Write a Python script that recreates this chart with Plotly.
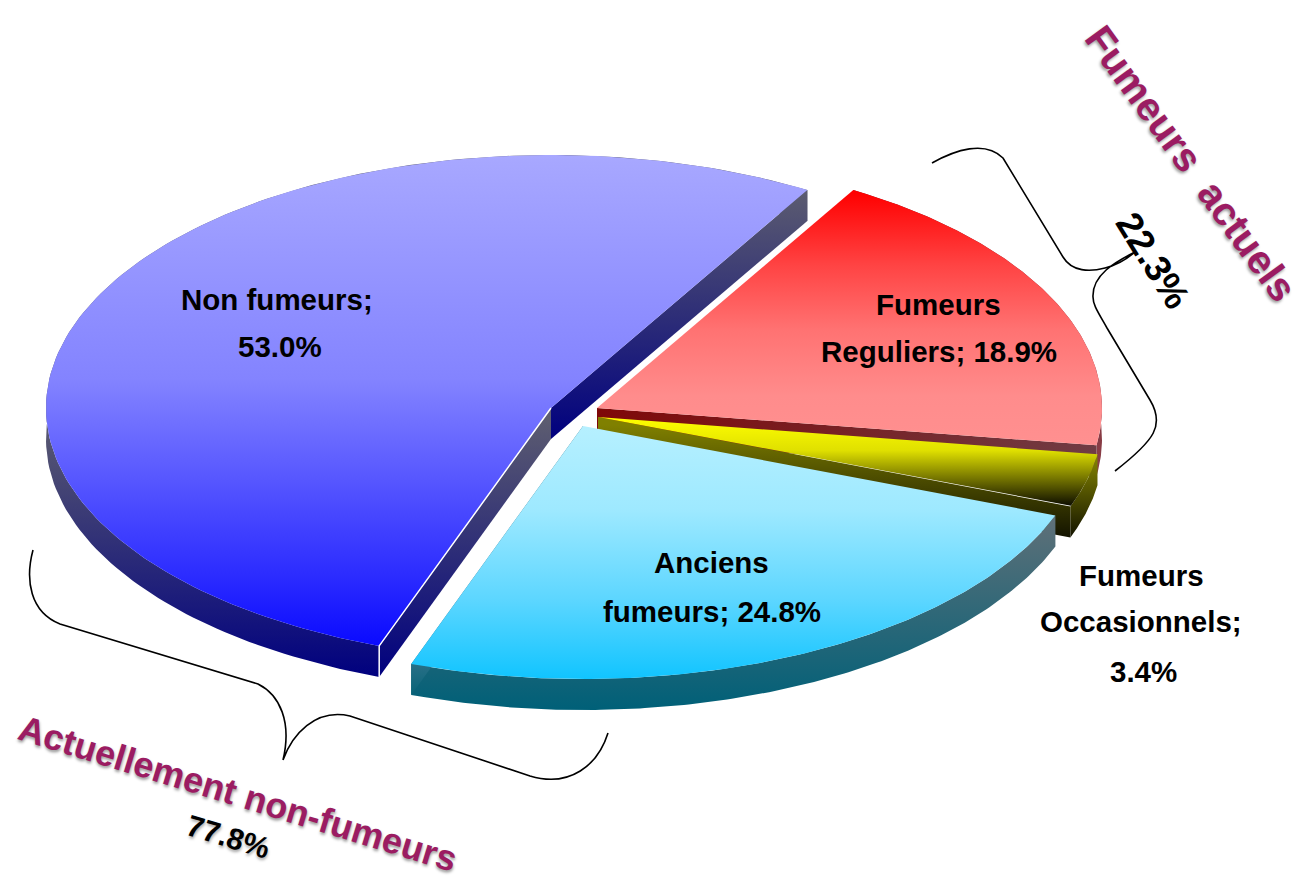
import numpy as np
import plotly.graph_objects as go

# ---- data ----
categories = ["Non fumeurs", "Anciens fumeurs", "Fumeurs Occasionnels", "Fumeurs Reguliers"]
shares = [53.0, 24.8, 3.4, 18.9]
group_labels = ["Actuellement non-fumeurs", "Fumeurs  actuels"]
group_values = [77.8, 22.3]

# ---- geometry of the tilted pie ----
W, H = 1305, 880
A, B = 505.0, 253.0
DEPTH = 31.0
START_DEG = 59.5
APEX = {0: (551, 408), 1: (583, 426), 2: (598, 417), 3: (597, 408)}
total = sum(shares)
edges = START_DEG + np.concatenate([[0], np.cumsum(shares)]) * 360.0 / total


def arc(i, n=160):
    t = np.radians(np.linspace(edges[i], edges[i + 1], n))
    cx, cy = APEX[i]
    return cx + A * np.cos(t), cy - B * np.sin(t)


def poly(x, y, stops, y0, y1, kind="vertical"):
    x = list(x) + [x[0]]
    y = list(y) + [y[0]]
    return go.Scatter(
        x=x, y=y, mode="lines", fill="toself", line=dict(width=0),
        fillgradient=dict(type=kind, start=y0, stop=y1, colorscale=stops),
        hoverinfo="skip", showlegend=False,
    )


def outer_wall(i, stops, y0, y1):
    x, y = arc(i)
    return poly(np.r_[x, x[::-1]], np.r_[y, y[::-1] + DEPTH], stops, y0, y1)


def cut_wall(i, end, stops, y0, y1, kind="vertical"):
    x, y = arc(i)
    cx, cy = APEX[i]
    px, py = (x[0], y[0]) if end == 0 else (x[-1], y[-1])
    return poly([cx, px, px, cx], [cy, py, py + DEPTH, cy + DEPTH], stops, y0, y1, kind)


def face(i, stops, y0, y1):
    x, y = arc(i)
    cx, cy = APEX[i]
    return poly(np.r_[cx, x], np.r_[cy, y], stops, y0, y1)


fig = go.Figure()

# Non fumeurs
grey_navy = [[0, "#5c5c70"], [1, "#00007f"]]
fig.add_trace(outer_wall(0, grey_navy, 420, 677))
fig.add_trace(cut_wall(0, 0, grey_navy, 190, 440))
fig.add_trace(cut_wall(0, 1, grey_navy, 420, 677))
fig.add_trace(face(0, [[0, "#a8a8ff"], [0.459, "#8383ff"], [0.857, "#2c2cff"], [1, "#0a0aff"]], 155, 645))
x0, y0 = arc(0)
fig.add_trace(go.Scatter(
    x=[APEX[0][0], x0[-1], x0[-1]], y=[APEX[0][1], y0[-1], y0[-1] + DEPTH],
    mode="lines", line=dict(color="#ffffff", width=1.5), hoverinfo="skip", showlegend=False))

# Fumeurs reguliers
fig.add_trace(outer_wall(3, [[0, "#7a2030"], [1, "#8a4048"]], 200, 480))
fig.add_trace(cut_wall(3, 0, [[0, "#7f0808"], [1, "#703c44"]], 597, 1098, "horizontal"))
fig.add_trace(face(3, [[0, "#ff0000"], [0.29, "#ff4444"], [0.54, "#ff7272"], [0.8, "#ff8c8c"], [1, "#ff9090"]], 192, 447))

# Fumeurs occasionnels
olive_black = [[0, "#808000"], [1, "#141400"]]
fig.add_trace(outer_wall(2, olive_black, 460, 537))
fig.add_trace(cut_wall(2, 0, olive_black, 425, 537))
fig.add_trace(face(2, [[0, "#ffff00"], [0.38, "#e0e000"], [1, "#101000"]], 417, 505))

# Anciens fumeurs
fig.add_trace(outer_wall(1, [[0, "#607078"], [1, "#006078"]], 515, 709))
fig.add_trace(cut_wall(1, 0, [[0, "#2a7088"], [1, "#0a6478"]], 662, 693))
fig.add_trace(face(1, [[0, "#b6f0ff"], [0.33, "#9ee9ff"], [0.685, "#5cd6ff"], [1, "#10c4ff"]], 426, 680))

# Braces
brace_style = dict(type="path", xref="x", yref="y", line=dict(color="#000000", width=1.6))
fig.add_shape(path="M932,163 C955,150 985,140 1003,158 L1063,257 C1072,272 1090,272 1105,268 "
                   "C1118,265 1128,258 1135,252 C1115,262 1092,275 1093,297 C1093,305 1098,312 1107,328 "
                   "L1150,400 C1165,425 1155,440 1115,471", **brace_style)
fig.add_shape(path="M33,550 C25,580 30,612 60,624 L258,684 C280,695 292,722 283,760 "
                   "C292,735 315,708 350,716 L530,776 C570,788 598,765 608,733", **brace_style)

# Labels
LABEL = dict(family="Liberation Sans", size=29.5, color="#000000", weight="bold")
MAGENTA = dict(family="Liberation Sans", size=36, color="#9b1c62", weight="bold",
               shadow="1px 2px 3px rgba(0,0,0,0.4)")
MAGENTA2 = dict(MAGENTA, size=40)


def note(x, y, text, font, angle=0):
    fig.add_annotation(x=x, y=y, xref="x", yref="y", text=text, showarrow=False,
                       font=font, textangle=angle, xanchor="center", yanchor="middle")


note(277, 299, f"{categories[0]};", LABEL)
note(280, 346, f"{shares[0]:.1f}%", LABEL)
note(938, 304, "Fumeurs", LABEL)
note(939, 351, f"Reguliers; {shares[3]:.1f}%", LABEL)
note(711, 562, "Anciens", LABEL)
note(712, 611, f"fumeurs; {shares[1]:.1f}%", LABEL)
note(1141, 575, "Fumeurs", LABEL)
note(1141, 621, "Occasionnels;", LABEL)
note(1143, 671, f"{shares[2]:.1f}%", LABEL)
note(1191, 163, group_labels[1], MAGENTA2, 54)
note(238, 793, group_labels[0], MAGENTA, 17)
note(228, 836, f"{group_values[0]:.1f}%", dict(family="Liberation Sans", size=30, color="#000000",
     weight="bold", shadow="1px 2px 3px rgba(0,0,0,0.35)"), 17)
note(1153, 260, f"{group_values[1]:.1f}%", dict(family="Liberation Sans", size=37,
     color="#000000", weight="bold"), 58)

fig.update_layout(
    width=W, height=H, margin=dict(l=0, r=0, t=0, b=0),
    paper_bgcolor="#ffffff", plot_bgcolor="#ffffff", showlegend=False,
    xaxis=dict(range=[0, W], visible=False, fixedrange=True),
    yaxis=dict(range=[H, 0], visible=False, fixedrange=True),
)
fig.write_html("out.html", config=dict(displayModeBar=False),
               post_script="document.body.style.margin='0';")
